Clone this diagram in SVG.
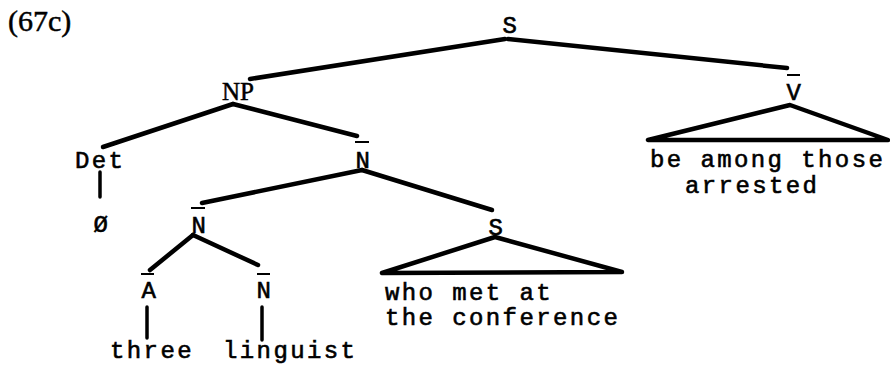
<svg xmlns="http://www.w3.org/2000/svg" width="890" height="371" viewBox="0 0 890 371">
  <style>
    .lbl { font-family: "Liberation Mono", "DejaVu Sans Mono", monospace; font-size: 24px; letter-spacing: 2.4px; fill: #000; stroke: #000; stroke-width: 0.6px; }
    .mid { text-anchor: middle; }
    .ser { font-family: "Liberation Serif", "DejaVu Serif", serif; fill: #000; stroke: #000; stroke-width: 0.5px; }
    .edge { stroke: #000; stroke-width: 4.5; stroke-linecap: round; stroke-linejoin: round; fill: none; }
    .tri { stroke: #000; stroke-width: 4.5; stroke-linejoin: round; fill: none; }
    .drop { stroke: #000; stroke-width: 3.5; stroke-linecap: round; }
    .bar { stroke: #000; stroke-width: 2; }
  </style>
  <rect width="890" height="371" fill="#fff"/>

  <text class="ser" x="8" y="31" font-size="30">(67c)</text>

  <!-- tree edges -->
  <g id="connectors">
    <line class="edge" x1="505" y1="39" x2="250" y2="79"/>
    <line class="edge" x1="508" y1="39" x2="787" y2="68"/>
    <line class="edge" x1="233" y1="104" x2="103" y2="147"/>
    <line class="edge" x1="233" y1="104" x2="357" y2="136"/>
    <line class="edge" x1="362" y1="170" x2="202" y2="203"/>
    <line class="edge" x1="362" y1="170" x2="492" y2="210"/>
    <line class="edge" x1="193" y1="235" x2="150" y2="270"/>
    <line class="edge" x1="193" y1="235" x2="258" y2="265"/>
    <polygon class="tri" points="790,105 648,140 888,140"/>
    <polygon class="tri" points="495,237 382,273 622,272"/>
    <line class="drop" x1="100" y1="172" x2="100" y2="197"/>
    <line class="drop" x1="147" y1="307" x2="147" y2="338"/>
    <line class="drop" x1="262" y1="307" x2="262" y2="340"/>
  </g>

  <g id="S-root"><text class="lbl mid" x="511" y="33">S</text></g>
  <g id="NP"><text class="ser mid" x="238" y="100" font-size="25">NP</text></g>
  <g id="Vbar">
    <line class="bar" x1="787" y1="75" x2="800" y2="75"/>
    <text class="lbl mid" x="795" y="100">V</text>
  </g>
  <g id="Vbar-yield">
    <text class="lbl" x="650" y="167">be among those</text>
    <text class="lbl" x="685" y="193">arrested</text>
  </g>
  <g id="Det"><text class="lbl" x="75" y="168">Det</text></g>
  <g id="null"><text class="lbl mid" x="102" y="232">Ø</text></g>
  <g id="Nbar-upper">
    <line class="bar" x1="355" y1="142" x2="369" y2="142"/>
    <text class="lbl mid" x="364" y="168">N</text>
  </g>
  <g id="Nbar-lower">
    <line class="bar" x1="191" y1="208" x2="205" y2="208"/>
    <text class="lbl mid" x="200" y="233">N</text>
  </g>
  <g id="S-relative"><text class="lbl mid" x="497" y="235">S</text></g>
  <g id="S-relative-yield">
    <text class="lbl" x="385" y="300">who met at</text>
    <text class="lbl" x="385" y="325">the conference</text>
  </g>
  <g id="Abar">
    <line class="bar" x1="141" y1="274" x2="154" y2="274"/>
    <text class="lbl mid" x="150" y="298">A</text>
  </g>
  <g id="Nbar-head">
    <line class="bar" x1="257" y1="274" x2="270" y2="274"/>
    <text class="lbl mid" x="265" y="298">N</text>
  </g>
  <g id="three"><text class="lbl" x="110" y="358">three</text></g>
  <g id="linguist"><text class="lbl" x="223" y="358">linguist</text></g>
</svg>
